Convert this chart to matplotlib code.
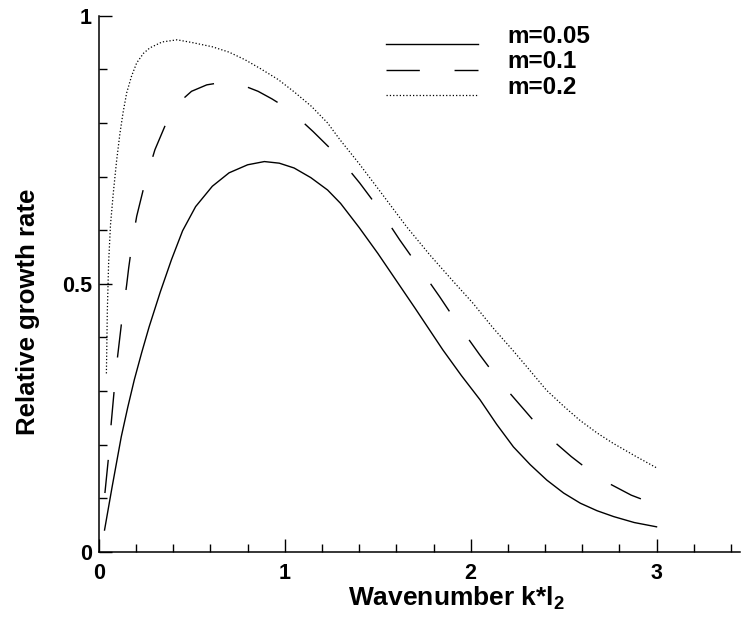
import matplotlib
matplotlib.use('Agg')
import matplotlib.pyplot as plt
from matplotlib.ticker import MultipleLocator, FormatStrFormatter

# wavenumber k*l2 and relative growth rate
k_m005 = [0.03, 0.07, 0.12, 0.155, 0.19, 0.23, 0.27, 0.33, 0.39, 0.45, 0.52, 0.61,
          0.70, 0.80, 0.89, 0.97, 1.05, 1.14, 1.23, 1.30, 1.40, 1.50, 1.60, 1.70,
          1.80, 1.85, 1.95, 2.05, 2.14, 2.23, 2.32, 2.41, 2.50, 2.59, 2.68, 2.77,
          2.88, 3.0]
g_m005 = [0.041, 0.12, 0.215, 0.27, 0.321, 0.372, 0.42, 0.485, 0.545, 0.599, 0.644, 0.682,
          0.707, 0.722, 0.728, 0.725, 0.716, 0.698, 0.675, 0.650, 0.605, 0.557, 0.506, 0.455,
          0.403, 0.377, 0.329, 0.284, 0.238, 0.196, 0.163, 0.134, 0.110, 0.091, 0.077, 0.066,
          0.055, 0.047]

k_m01 = [0.032, 0.05, 0.065, 0.082, 0.10, 0.122, 0.149, 0.16, 0.18, 0.203, 0.247, 0.301,
         0.373, 0.43, 0.498, 0.58, 0.668, 0.76, 0.856, 0.93, 1.009, 1.08, 1.152, 1.278,
         1.403, 1.511, 1.618, 1.726, 1.833, 1.941, 2.048, 2.156, 2.281, 2.398, 2.541,
         2.694, 2.864, 3.0]
g_m01 = [0.11, 0.172, 0.237, 0.302, 0.364, 0.429, 0.498, 0.53, 0.58, 0.626, 0.688, 0.75,
         0.809, 0.838, 0.859, 0.871, 0.876, 0.872, 0.859, 0.845, 0.828, 0.807, 0.784, 0.741,
         0.688, 0.638, 0.582, 0.529, 0.476, 0.42, 0.368, 0.318, 0.268, 0.221, 0.178,
         0.137, 0.106, 0.088]

k_m02 = [0.040, 0.045, 0.052, 0.062, 0.077, 0.095, 0.113, 0.13, 0.149, 0.175, 0.203,
         0.24, 0.274, 0.34, 0.42, 0.50, 0.61, 0.70, 0.785, 0.87, 0.964, 1.05, 1.143,
         1.23, 1.296, 1.40, 1.52, 1.654, 1.78, 1.90, 2.012, 2.12, 2.227, 2.32, 2.407,
         2.50, 2.586, 2.68, 2.765, 2.88, 3.0]
g_m02 = [0.333, 0.45, 0.54, 0.61, 0.669, 0.73, 0.781, 0.82, 0.856, 0.887, 0.912,
         0.93, 0.940, 0.951, 0.955, 0.950, 0.942, 0.932, 0.918, 0.901, 0.881, 0.858, 0.831,
         0.80, 0.769, 0.724, 0.669, 0.607, 0.554, 0.507, 0.464, 0.418, 0.376, 0.338, 0.302,
         0.272, 0.246, 0.222, 0.203, 0.180, 0.157]

labels = ['m=0.05', 'm=0.1', 'm=0.2']

plt.rcParams['font.family'] = ['Liberation Sans', 'DejaVu Sans']
plt.rcParams['font.weight'] = 'bold'
plt.rcParams['mathtext.fontset'] = 'custom'
plt.rcParams['mathtext.rm'] = 'Liberation Sans:bold'
plt.rcParams['mathtext.default'] = 'rm'

fig = plt.figure(figsize=(7.43, 6.17), dpi=100)
ax = fig.add_axes([0.1332, 0.1053, 0.863, 0.8693])

ax.plot(k_m005, g_m005, color='black', lw=1.0, label=labels[0])
ax.plot(k_m01, g_m01, color='black', lw=1.0, dashes=(24, 25), label=labels[1])
ax.plot(k_m02, g_m02, color='black', lw=0.9, linestyle=':', label=labels[2])

ax.set_xlim(0, 3.45)
ax.set_ylim(0, 1)
ax.spines['top'].set_visible(False)
ax.spines['right'].set_visible(False)
ax.spines['left'].set_linewidth(1.1)
ax.spines['bottom'].set_linewidth(1.1)

ax.xaxis.set_major_locator(MultipleLocator(1))
ax.xaxis.set_minor_locator(MultipleLocator(0.2))
ax.yaxis.set_major_locator(MultipleLocator(0.5))
ax.yaxis.set_minor_locator(MultipleLocator(0.1))
ax.xaxis.set_major_formatter(FormatStrFormatter('%g'))
ax.yaxis.set_major_formatter(FormatStrFormatter('%g'))
ax.tick_params(which='major', direction='in', length=9.4, width=1, labelsize=15.5)
ax.tick_params(which='minor', direction='in', length=6, width=1)
ax.tick_params(axis='x', which='major', pad=8)
ax.tick_params(axis='y', which='major', pad=5)
ax.tick_params(top=False, right=False, which='both')

ax.set_xlabel('Wavenumber k*l$_2$', fontsize=19, fontweight='bold')
ax.xaxis.set_label_coords(0.557, -0.061)
ax.set_ylabel('Relative growth rate', fontsize=18.5, fontweight='bold')
ax.yaxis.set_label_coords(-0.092, 0.448)

leg = ax.legend(loc='upper left', bbox_to_anchor=(0.5195, 0.9434), bbox_transform=fig.transFigure,
                frameon=False, fontsize=17.5, handlelength=3.8, handletextpad=1.2,
                labelspacing=0.1, borderpad=0, borderaxespad=0)
# tecplot puts the legend text a little above its line sample
for txt in leg.get_texts():
    txt.set_position((0, 10))

fig.savefig('out.png', dpi=100)
